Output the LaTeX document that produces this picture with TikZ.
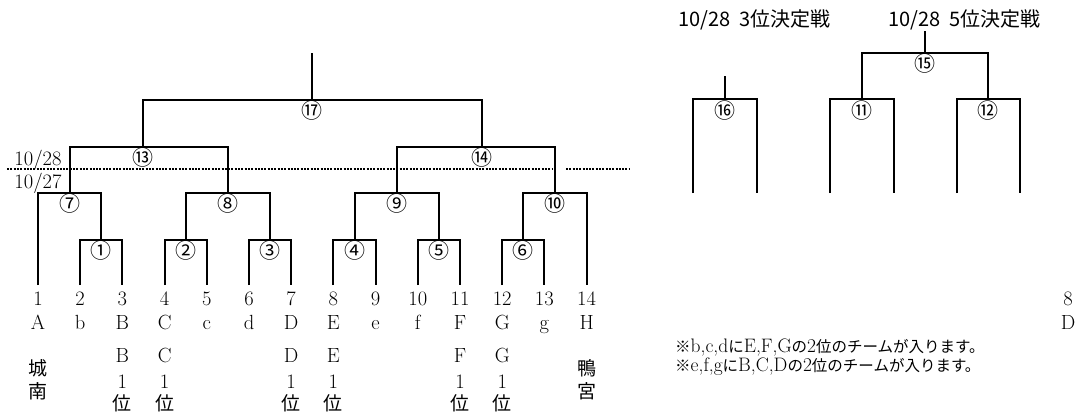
\documentclass[tikz,border=0pt]{standalone}
\usepackage{fontspec}
\newfontfamily\cjk{Noto Sans CJK JP}
\newcommand{\nj}{\cjk\fontsize{15.5}{15.3}\selectfont}
\usetikzlibrary{calc}
\begin{document}
\begin{tikzpicture}[x=1pt,y=-1pt,
  br/.style={line width=2pt},
  dotline/.style={line width=2pt, dash pattern=on 2pt off 1.3pt},
  num/.style={font=\fontsize{20.5}{20.5}\selectfont, inner sep=0pt, anchor=base},
  jp/.style={font=\cjk\fontsize{19}{19}\selectfont, inner sep=0pt},
  circ/.style={font=\cjk\fontsize{21}{21}\selectfont, inner sep=0pt},
  ttl/.style={font=\cjk\fontsize{20}{20}\selectfont, inner sep=0pt, anchor=base west},
  note/.style={font=\fontsize{19.5}{15.3}\selectfont, inner sep=0pt, align=left, anchor=north west}]
\useasboundingbox (0,0) rectangle (1092,413);
\fill[white] (0,0) rectangle (1092,413);

% leaves and their labels
\foreach \i/\l [evaluate=\i as \x using 38+42.2*(\i-1)] in
  {1/A,2/b,3/B,4/C,5/c,6/d,7/D,8/E,9/e,10/f,11/F,12/G,13/g,14/H}{
  \coordinate (L\i) at (\x,285);
  \node[num] (n\i) at (\x,305) {\i};
  \node[num] (t\i) at (\x,329.3) {\l};
}

% match points (left bracket)
\coordinate (m1) at (101.3,240);
\coordinate (m2) at (185.7,240);
\coordinate (m3) at (270.1,240);
\coordinate (m4) at (354.5,240);
\coordinate (m5) at (438.9,240);
\coordinate (m6) at (523.3,240);
\coordinate (m7) at (69.6,193);
\coordinate (m8) at (227.9,193);
\coordinate (m9) at (396.7,193);
\coordinate (m10) at (555.4,193);
\coordinate (m13) at (143,147);
\coordinate (m14) at (481.7,147);
\coordinate (m17) at (312.3,100);
\coordinate (top17) at (312.3,53);

\draw[br] (L2) |- (m1) -| (L3);
\draw[br] (L4) |- (m2) -| (L5);
\draw[br] (L6) |- (m3) -| (L7);
\draw[br] (L8) |- (m4) -| (L9);
\draw[br] (L10) |- (m5) -| (L11);
\draw[br] (L12) |- (m6) -| (L13);
\draw[br] (L1) |- (m7) -| (m1);
\draw[br] (m2) |- (m8) -| (m3);
\draw[br] (m4) |- (m9) -| (m5);
\draw[br] (m6) |- (m10) -| (L14);
\draw[br] (m7) |- (m13) -| (m8);
\draw[br] (m9) |- (m14) -| (m10);
\draw[br] (m13) |- (m17) -| (m14);
\draw[br] (m17) -- (top17);

% right bracket
\coordinate (R1) at (692.7,193);
\coordinate (R2) at (756.7,193);
\coordinate (R3) at (830,193);
\coordinate (R4) at (894,193);
\coordinate (R5) at (956.7,193);
\coordinate (R6) at (1020,193);
\coordinate (m16) at (724.7,99.3);
\coordinate (m11) at (862,99.3);
\coordinate (m12) at (988.3,99.3);
\coordinate (m15) at (925.2,52.7);
\coordinate (top16) at (724.7,76);
\coordinate (top15) at (925.2,30.7);

\draw[br] (R1) |- (m16) -| (R2);
\draw[br] (m16) -- (top16);
\draw[br] (R3) |- (m11) -| (R4);
\draw[br] (R5) |- (m12) -| (R6);
\draw[br] (m11) |- (m15) -| (m12);
\draw[br] (m15) -- (top15);

% match numbers
\foreach \m/\c in {1/①,2/②,3/③,4/④,5/⑤,6/⑥,7/⑦,8/⑧,9/⑨,10/⑩,11/⑪,12/⑫,13/⑬,14/⑭,15/⑮,16/⑯,17/⑰}{
  \node[circ] (c\m) at ($(m\m)+(0,11)$) {\c};
}

% date divider
\coordinate (dA) at (7,169.3);
\coordinate (dB) at (552,169.3);
\coordinate (dC) at (566,169.3);
\coordinate (dD) at (629,169.3);
\draw[dotline] (dA) -- (dB);
\draw[dotline] (dC) -- (dD);
\node[num] (d28) at (38,165) {10/28};
\node[num] (d27) at (38,188.3) {10/27};

% vertical labels
\foreach \x/\t/\k in {122.4/B/a,164.6/C/b,291.2/D/c,333.4/E/d,460/F/e,502.2/G/f}{
  \node[num] (v\k1) at (\x,362.7) {\t};
  \node[num] (v\k2) at (\x,388.3) {1};
  \node[jp] (v\k3) at (\x,403.3) {位};
}
\node[jp] (jo) at (38,368) {城};
\node[jp] (na) at (38,391.3) {南};
\node[jp] (ka) at (586.6,368) {鴨};
\node[jp] (mi) at (586.6,391.3) {宮};

% titles
\node[ttl] (ti3) at (678,26) {10/28\hspace{0.45em}3位決定戦};
\node[ttl] (ti5) at (888,26) {10/28\hspace{0.45em}5位決定戦};

% right edge partial labels
\node[num] (n8r) at (1068,305) {8};
\node[num] (tDr) at (1068,329.3) {D};

% notes
\node[note] (notes) at (675,339) {{\nj ※}b,c,d{\nj に}E,F,G{\nj の}2{\nj 位のチームが入ります。}\\
{\nj ※}e,f,g{\nj に}B,C,D{\nj の}2{\nj 位のチームが入ります。}};
\end{tikzpicture}
\end{document}
